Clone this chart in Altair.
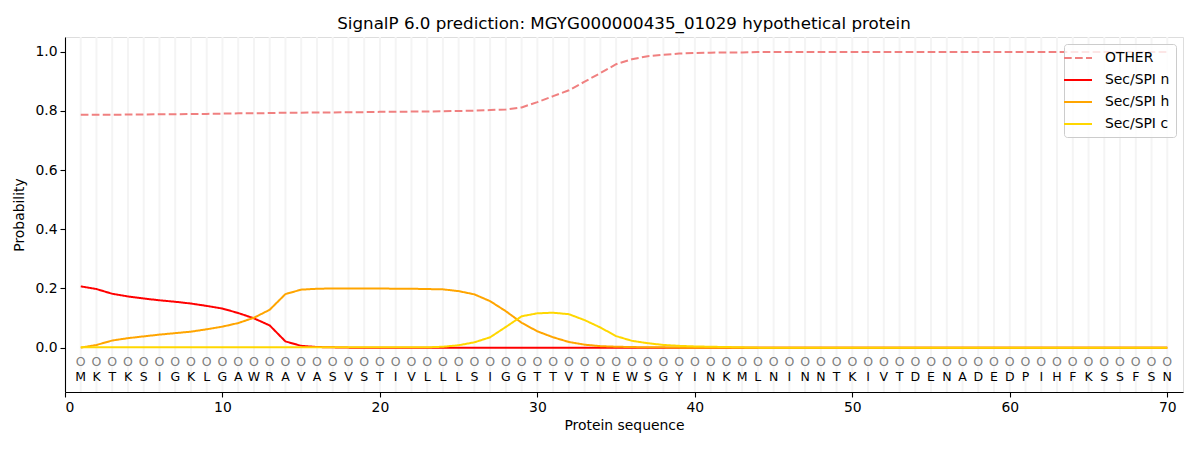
import altair as alt
import pandas as pd

residues = list("MKTKSIGKLGAWRAVASVSTIVLLLSIGGTTVTNEWSGYINKMLNINNTKIVTDENADEDPIHFKSSFSN")
positions = list(range(1, 71))

other = [0.787, 0.787, 0.787, 0.788, 0.788, 0.789, 0.789, 0.790, 0.790, 0.791,
         0.792, 0.792, 0.793, 0.794, 0.794, 0.795, 0.795, 0.796, 0.796, 0.797,
         0.797, 0.798, 0.798, 0.799, 0.800, 0.801, 0.803, 0.805, 0.812, 0.830,
         0.850, 0.870, 0.899, 0.928, 0.958, 0.975, 0.985, 0.990, 0.994, 0.996,
         0.997, 0.998, 0.998, 0.999, 0.999, 0.999, 0.999, 0.999, 0.999, 0.999,
         0.999, 0.999, 0.999, 0.999, 0.999, 0.999, 0.999, 0.999, 0.999, 0.999,
         0.999, 0.999, 0.999, 0.999, 0.999, 0.999, 0.999, 0.999, 0.999, 0.999]

sec_n = [0.207, 0.198, 0.182, 0.173, 0.166, 0.160, 0.155, 0.149, 0.141, 0.132,
         0.117, 0.099, 0.075, 0.021, 0.006, 0.002, 0.001, 0.000, 0.000, 0.000,
         0.000, 0.000, 0.000, 0.000, 0.000, 0.000, 0.000, 0.000, 0.000, 0.000,
         0.000, 0.000, 0.000, 0.000, 0.000, 0.000, 0.000, 0.000, 0.000, 0.000,
         0.000, 0.000, 0.000, 0.000, 0.000, 0.000, 0.000, 0.000, 0.000, 0.000,
         0.000, 0.000, 0.000, 0.000, 0.000, 0.000, 0.000, 0.000, 0.000, 0.000,
         0.000, 0.000, 0.000, 0.000, 0.000, 0.000, 0.000, 0.000, 0.000, 0.000]

sec_h = [0.000, 0.009, 0.024, 0.032, 0.038, 0.044, 0.049, 0.054, 0.062, 0.071,
         0.083, 0.101, 0.128, 0.181, 0.196, 0.199, 0.200, 0.200, 0.200, 0.200,
         0.199, 0.199, 0.198, 0.197, 0.191, 0.180, 0.157, 0.123, 0.084, 0.055,
         0.035, 0.019, 0.010, 0.005, 0.003, 0.002, 0.001, 0.001, 0.000, 0.000,
         0.000, 0.000, 0.000, 0.000, 0.000, 0.000, 0.000, 0.000, 0.000, 0.000,
         0.000, 0.000, 0.000, 0.000, 0.000, 0.000, 0.000, 0.000, 0.000, 0.000,
         0.000, 0.000, 0.000, 0.000, 0.000, 0.000, 0.000, 0.000, 0.000, 0.000]

sec_c = [0.001, 0.001, 0.001, 0.001, 0.001, 0.001, 0.001, 0.001, 0.001, 0.001,
         0.001, 0.001, 0.001, 0.001, 0.001, 0.001, 0.001, 0.001, 0.001, 0.001,
         0.001, 0.001, 0.001, 0.003, 0.008, 0.018, 0.035, 0.070, 0.106, 0.116,
         0.118, 0.113, 0.093, 0.068, 0.039, 0.023, 0.015, 0.009, 0.006, 0.004,
         0.003, 0.002, 0.001, 0.000, 0.000, 0.000, 0.000, 0.000, 0.000, 0.000,
         0.000, 0.000, 0.000, 0.000, 0.000, 0.000, 0.000, 0.000, 0.000, 0.000,
         0.000, 0.000, 0.000, 0.000, 0.000, 0.000, 0.000, 0.000, 0.000, 0.000]

series_names = ["OTHER", "Sec/SPI n", "Sec/SPI h", "Sec/SPI c"]
series_values = [other, sec_n, sec_h, sec_c]
series_colors = ["#f08080", "#ff0000", "#ffa500", "#ffd700"]
series_dashes = [[7.7, 3.3], [1, 0], [1, 0], [1, 0]]

x_ticks = [0, 10, 20, 30, 40, 50, 60, 70]
y_ticks = [0.0, 0.2, 0.4, 0.6, 0.8, 1.0]

FONT = "DejaVu Sans"

rows = []
for name, vals in zip(series_names, series_values):
    for p, v in zip(positions, vals):
        rows.append({"pos": p, "prob": v, "series": name})
long_df = pd.DataFrame(rows)
seq_df = pd.DataFrame({"pos": positions, "res": residues})

x_scale = alt.Scale(domain=[0, 71], nice=False, zero=False)
y_scale = alt.Scale(domain=[-0.15, 1.05], nice=False, zero=False)

x_axis = alt.Axis(values=x_ticks, format="d", title="Protein sequence", grid=False,
                  labelFont=FONT, labelFontSize=13.9, labelColor="black",
                  titleFont=FONT, titleFontSize=13.9, titleFontWeight="normal", titleColor="black",
                  tickColor="black", tickSize=5, tickWidth=1.1, labelPadding=3,
                  domainColor="black", domainWidth=1.1, titlePadding=5)
y_axis = alt.Axis(values=y_ticks, format=".1f", title="Probability", grid=False,
                  labelFont=FONT, labelFontSize=13.9, labelColor="black",
                  titleFont=FONT, titleFontSize=13.9, titleFontWeight="normal", titleColor="black",
                  tickColor="black", tickSize=5, tickWidth=1.1, labelPadding=3,
                  domainColor="black", domainWidth=1.1, titlePadding=8)

grid = alt.Chart(seq_df).mark_rule(color="#f4f4f4", strokeWidth=2).encode(
    x=alt.X("pos:Q", scale=x_scale, axis=x_axis)
)

legend = alt.Legend(title=None, orient="top-right", offset=7, padding=6,
                    fillColor="rgba(255,255,255,0.8)", strokeColor="#cccccc",
                    cornerRadius=3, labelFont=FONT, labelFontSize=13.9, labelColor="black",
                    symbolType="M-2,0L2,0", symbolSize=196, symbolStrokeWidth=2,
                    labelOffset=19, rowPadding=7)

lines = alt.Chart(long_df).mark_line(strokeWidth=2).encode(
    x=alt.X("pos:Q", scale=x_scale, axis=x_axis),
    y=alt.Y("prob:Q", scale=y_scale, axis=y_axis),
    color=alt.Color("series:N", scale=alt.Scale(domain=series_names, range=series_colors),
                    legend=legend),
    strokeDash=alt.StrokeDash("series:N", scale=alt.Scale(domain=series_names, range=series_dashes),
                              legend=legend),
    order=alt.value(0),
)

circles = alt.Chart(seq_df).mark_text(text="O", color="#808080", fontSize=12.5, font=FONT,
                                      baseline="middle", align="center").encode(
    x=alt.X("pos:Q", scale=x_scale),
    y=alt.datum(-0.05, scale=y_scale),
)

letters = alt.Chart(seq_df).mark_text(color="black", fontSize=12.5, font=FONT,
                                      baseline="middle", align="center").encode(
    x=alt.X("pos:Q", scale=x_scale),
    y=alt.datum(-0.1),
    text="res:N",
)

chart = alt.layer(grid, lines, circles, letters).properties(
    width=1118, height=355,
    title=alt.TitleParams("SignalP 6.0 prediction: MGYG000000435_01029 hypothetical protein",
                          font=FONT, fontSize=16.7, fontWeight="normal", color="black",
                          anchor="middle", offset=3),
    padding={"left": 57, "top": 29, "right": 9, "bottom": 50},
    autosize=alt.AutoSizeParams(type="none"),
).configure_view(stroke="black", strokeWidth=1.1).configure(background="white")

chart.save("out.html", embed_options={"renderer": "svg", "actions": False})
